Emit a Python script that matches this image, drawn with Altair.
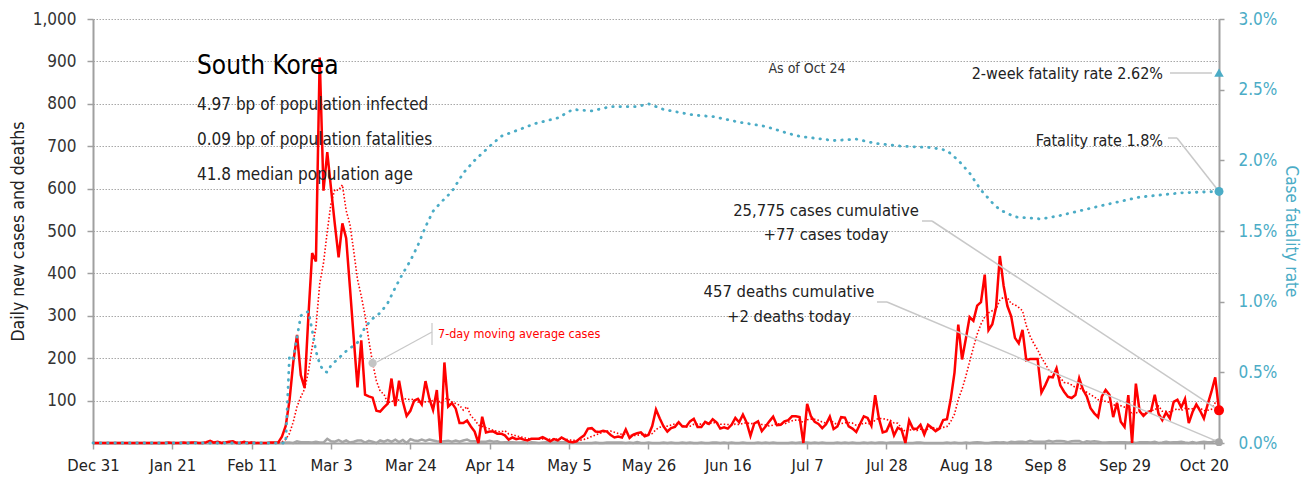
import altair as alt
import pandas as pd

FONT = "'DejaVu Sans Condensed', 'Liberation Sans Narrow', sans-serif"
RED = "#FF0000"
TEAL = "#4BACC6"
GRAY = "#A6A6A6"
LINE_GRAY = "#C8C8C8"

START_DATE = "2019-12-31"

# ---- daily new cases, one value per day from Dec 31 2019 to Oct 24 2020 ----
cases_dec = [0]
cases_jan = [0, 0, 0, 0, 0, 0, 0, 0, 0, 0, 0, 0, 0, 0, 0, 0, 0, 0, 0,
             1, 0, 0, 0, 1, 0, 1, 1, 0, 0, 2, 5]
cases_feb = [1, 3, 0, 1, 3, 4, 0, 0, 3, 0, 1, 0, 0, 0, 0, 1, 1, 1, 15, 40,
             100, 190, 255, 160, 130, 298, 448, 428, 909]
cases_mar = [595, 686, 600, 516, 438, 518, 483, 367, 248, 131, 242, 114, 110, 107, 76, 74,
             84, 93, 152, 87, 147, 98, 64, 76, 100, 104, 91, 146, 105, 78, 125]
cases_apr = [0, 190, 86, 94, 81, 47, 47, 53, 39, 27, 0, 62, 25, 27, 27, 22, 22, 18, 8, 13,
             9, 11, 8, 6, 10, 10, 10, 14, 9, 4]
cases_may = [9, 6, 13, 8, 3, 2, 4, 12, 18, 34, 35, 27, 26, 29, 27, 19, 13, 15, 13, 32,
             12, 20, 23, 25, 16, 19, 40, 79, 58, 39, 27]
cases_jun = [35, 38, 49, 39, 39, 51, 57, 38, 38, 50, 45, 56, 49, 34, 37, 34, 43, 59, 49, 67,
             48, 17, 46, 51, 28, 39, 51, 62, 42, 43]
cases_jul = [51, 54, 63, 63, 61, 0, 92, 63, 50, 45, 35, 44, 62, 33, 39, 61, 60, 39, 34, 26,
             45, 63, 59, 41, 113, 58, 25, 28, 48, 18, 36]
cases_aug = [31, 0, 53, 34, 33, 43, 20, 43, 36, 28, 34, 54, 56, 103, 166, 279, 197, 246, 297, 288,
             324, 332, 397, 266, 280, 320, 441, 371, 323, 299, 248]
cases_sep = [235, 267, 195, 198, 198, 198, 119, 136, 156, 155, 176, 136, 121, 109, 106, 113, 153, 126,
             110, 82, 70, 61, 110, 125, 114, 61, 95, 50, 38, 113]
cases_oct = [0, 140, 75, 64, 73, 75, 114, 69, 54, 72, 58, 97, 102, 84, 104, 47, 73, 91, 76, 58,
             91, 121, 155, 77]

# ---- daily new deaths ----
deaths_dec = [0]
deaths_jan = [0, 0, 0, 0, 0, 0, 0, 0, 0, 0, 0, 0, 0, 0, 0, 0, 0, 0, 0, 0,
              0, 0, 0, 0, 0, 0, 0, 0, 0, 0, 0]
deaths_feb = [0, 0, 0, 0, 0, 0, 0, 0, 0, 0, 0, 0, 0, 0, 0, 0, 0, 0, 0,
              1, 1, 0, 4, 2, 2, 2, 1, 3, 1]
deaths_mar = [1, 10, 4, 3, 7, 2, 6, 1, 3, 6, 6, 1, 5, 3, 0, 6, 3, 7, 3, 8,
              2, 7, 0, 9, 6, 5, 8, 5, 8, 6, 4]
deaths_apr = [3, 4, 5, 3, 6, 3, 6, 8, 4, 4, 3, 3, 3, 5, 3, 4, 1, 2, 2, 2,
              1, 1, 2, 0, 2, 1, 0, 1, 2, 1]
deaths_may = [1, 2, 2, 2, 0, 1, 0, 0, 0, 0, 0, 1, 0, 0, 1, 1, 1, 1, 1, 0,
              1, 0, 2, 0, 0, 1, 0, 0, 0, 1, 0]
deaths_jun = [1, 0, 0, 1, 0, 1, 0, 0, 1, 0, 0, 1, 1, 0, 1, 0, 1, 0, 0, 1,
              0, 0, 0, 1, 0, 1, 0, 1, 0, 0]
deaths_jul = [0, 0, 1, 0, 1, 1, 1, 0, 1, 0, 1, 0, 0, 0, 1, 0, 1, 0, 1, 0,
              0, 1, 0, 1, 0, 1, 1, 0, 1, 1, 1]
deaths_aug = [1, 0, 0, 0, 1, 1, 0, 0, 0, 0, 0, 0, 1, 0, 1, 0, 0, 1, 0, 1,
              2, 1, 0, 0, 1, 2, 1, 2, 0, 3, 2]
deaths_sep = [3, 3, 2, 5, 3, 3, 3, 3, 5, 3, 5, 5, 4, 2, 4, 5, 5, 1, 4, 3,
              4, 3, 1, 1, 2, 2, 2, 2, 2, 1]
deaths_oct = [2, 0, 2, 2, 2, 1, 3, 0, 1, 3, 1, 2, 2, 3, 1, 0, 2, 0, 2, 3,
              2, 2, 5, 2]

# ---- case fatality rate (percent) ----
cfr_dates = ["2019-12-31", "2020-02-20", "2020-02-21", "2020-02-22", "2020-02-23", "2020-02-24",
             "2020-02-25", "2020-02-26", "2020-02-27", "2020-02-28", "2020-02-29", "2020-03-01",
             "2020-03-02", "2020-03-03", "2020-03-05", "2020-03-07", "2020-03-09", "2020-03-10",
             "2020-03-12", "2020-03-14", "2020-03-16", "2020-03-18", "2020-03-20", "2020-03-22",
             "2020-03-24", "2020-03-26", "2020-03-28", "2020-03-30", "2020-04-01", "2020-04-04",
             "2020-04-07", "2020-04-10", "2020-04-14", "2020-04-17", "2020-04-21", "2020-04-26",
             "2020-05-02", "2020-05-06", "2020-05-11", "2020-05-16", "2020-05-23", "2020-05-26",
             "2020-05-30", "2020-06-07", "2020-06-12", "2020-06-19", "2020-06-26", "2020-07-02",
             "2020-07-05", "2020-07-14", "2020-07-20", "2020-07-25", "2020-08-01", "2020-08-09",
             "2020-08-13", "2020-08-16", "2020-08-19", "2020-08-22", "2020-08-25", "2020-08-27",
             "2020-08-31", "2020-09-07", "2020-09-12", "2020-09-23", "2020-10-03", "2020-10-14",
             "2020-10-24"]
cfr_pct = [0.0, 0.0, 0.62, 0.60, 0.75, 0.90,
           0.92, 0.93, 0.80, 0.65, 0.56, 0.51,
           0.50, 0.55, 0.60, 0.65, 0.69, 0.71,
           0.82, 0.88, 0.92, 0.99, 1.10, 1.20,
           1.29, 1.40, 1.53, 1.64, 1.70, 1.78,
           1.91, 2.00, 2.10, 2.17, 2.21, 2.26,
           2.30, 2.36, 2.35, 2.38, 2.38, 2.40,
           2.36, 2.32, 2.31, 2.27, 2.24, 2.19,
           2.17, 2.14, 2.15, 2.12, 2.10, 2.09,
           2.07, 2.00, 1.91, 1.79, 1.70, 1.65,
           1.60, 1.585, 1.61, 1.68, 1.74, 1.77,
           1.78]
two_week_cfr_pct = 2.62

# x-axis tick labels (every 21 days)
tick_dates = ["2019-12-31", "2020-01-21", "2020-02-11", "2020-03-03", "2020-03-24", "2020-04-14",
              "2020-05-05", "2020-05-26", "2020-06-16", "2020-07-07", "2020-07-28", "2020-08-18",
              "2020-09-08", "2020-09-29", "2020-10-20"]
left_ticks = [100, 200, 300, 400, 500, 600, 700, 800, 900, 1000]
right_ticks = [0.0, 0.005, 0.01, 0.015, 0.02, 0.025, 0.03]

daily_cases = (cases_dec + cases_jan + cases_feb + cases_mar + cases_apr + cases_may +
               cases_jun + cases_jul + cases_aug + cases_sep + cases_oct)
daily_deaths = (deaths_dec + deaths_jan + deaths_feb + deaths_mar + deaths_apr + deaths_may +
                deaths_jun + deaths_jul + deaths_aug + deaths_sep + deaths_oct)
n = len(daily_cases)
dates = pd.date_range(START_DATE, periods=n, freq="D").strftime("%Y-%m-%d").tolist()
df = pd.DataFrame({"date": dates, "day": list(range(n)),
                   "cases": daily_cases, "deaths": daily_deaths})
last = df.iloc[[-1]].reset_index(drop=True)
cfr_df = pd.DataFrame({"date": cfr_dates, "cfr": [v / 100 for v in cfr_pct]})
cfr_last = cfr_df.iloc[[-1]].reset_index(drop=True)
two_week = pd.DataFrame({"date": [dates[-1]], "rate": [two_week_cfr_pct / 100]})
one = pd.DataFrame({"k": [0]})


def dt(s):
    y, m, d = (int(p) for p in s.split("-"))
    return alt.DateTime(year=y, month=m, date=d, utc=True)


x_scale = alt.Scale(type="utc", domain=[dt(START_DATE), dt(dates[-1])])
x_axis = alt.Axis(values=[dt(s) for s in tick_dates],
                  labelExpr="utcFormat(datum.value, '%b %-d')",
                  title=None, grid=False, domainColor="#A0A0A0", domainWidth=2,
                  tickColor="#A0A0A0", tickSize=6, tickWidth=1.5, labelFontSize=16.5,
                  labelColor="#222222", labelBaseline="alphabetic", labelPadding=21,
                  labelOverlap=False, labelFlush=False, labelFont=FONT)
X = alt.X("date:T", scale=x_scale, axis=x_axis)

yL_scale = alt.Scale(domain=[0, 1000], nice=False, zero=True)
yL_axis = alt.Axis(values=left_ticks, labelExpr="format(datum.value, ',')",
                   title="Daily new cases and deaths",
                   grid=True, gridDash=[1.5, 1.5], gridColor="#A8A8A8", gridWidth=1,
                   domainColor="#A0A0A0", domainWidth=2, tickColor="#A0A0A0", tickSize=6,
                   tickWidth=1.5, labelFontSize=17, labelColor="#333333", labelPadding=11,
                   labelOverlap=False, labelFlush=False, labelFont=FONT, titleFont=FONT,
                   titleFontSize=17.5, titleFontWeight="normal", titleColor="#222222",
                   titleAngle=270, titleBaseline="middle", titleX=-75, titleY=212)
yR_scale = alt.Scale(domain=[0, 0.03], nice=False, zero=True)
yR_axis = alt.Axis(orient="right", values=right_ticks, labelExpr="format(datum.value, '.1%')",
                   title="Case fatality rate",
                   grid=False, domainColor="#A0A0A0", domainWidth=2, tickColor="#A0A0A0",
                   tickSize=5, tickWidth=1.5, labelFontSize=17, labelColor=TEAL, labelPadding=14,
                   labelOverlap=False, labelFlush=False, labelFont=FONT, titleFont=FONT,
                   titleFontSize=17, titleFontWeight="normal", titleColor=TEAL,
                   titleAngle=90, titleBaseline="middle", titleX=71, titleY=212)


def YL(field):
    return alt.Y(field, scale=yL_scale, axis=yL_axis)


def YR(field):
    return alt.Y(field, scale=yR_scale, axis=yR_axis)


base = alt.Chart(df)

deaths_line = base.mark_line(color=GRAY, strokeWidth=2.5).encode(x=X, y=YL("deaths:Q"))
ma_line = base.transform_window(
    ma="mean(cases)", frame=[-6, 0], sort=[alt.SortField("day")]
).mark_line(color=RED, strokeWidth=1.6, strokeDash=[1.5, 2]).encode(x=X, y=YL("ma:Q"))
cases_line = base.mark_line(color=RED, strokeWidth=2.5).encode(x=X, y=YL("cases:Q"))

ma_dot = base.transform_window(
    ma="mean(cases)", frame=[-6, 0], sort=[alt.SortField("day")]
).transform_filter("datum.day == 74").mark_point(
    filled=True, color="#C4C4C4", size=70, opacity=1).encode(x=X, y=YL("ma:Q"))

# connector lines (annotation -> last data point)
cases_conn = alt.Chart(last).mark_rule(color=LINE_GRAY, strokeWidth=1.5).encode(
    x=X, y=YL("cases:Q"), x2=alt.value(839), y2=alt.value(202))
deaths_conn = alt.Chart(last).mark_rule(color=LINE_GRAY, strokeWidth=1.5).encode(
    x=X, y=YL("deaths:Q"), x2=alt.value(794), y2=alt.value(283))
cases_conn_h = alt.Chart(one).mark_rule(color=LINE_GRAY, strokeWidth=1.5).encode(
    x=alt.value(829), x2=alt.value(839), y=alt.value(202))
deaths_conn_h = alt.Chart(one).mark_rule(color=LINE_GRAY, strokeWidth=1.5).encode(
    x=alt.value(784), x2=alt.value(794), y=alt.value(283))
ma_conn = alt.Chart(one).mark_rule(color=LINE_GRAY, strokeWidth=1.2).encode(
    x=alt.value(339), x2=alt.value(284), y=alt.value(313), y2=alt.value(343))
ma_tick = alt.Chart(one).mark_rule(color=LINE_GRAY, strokeWidth=1.2).encode(
    x=alt.value(339), y=alt.value(304), y2=alt.value(326))

deaths_end = alt.Chart(last).mark_point(filled=True, color=GRAY, size=60, opacity=1).encode(
    x=X, y=YL("deaths:Q"))
cases_end = alt.Chart(last).mark_point(filled=True, color=RED, size=100, opacity=1).encode(
    x=X, y=YL("cases:Q"))


def label(text, x, y, size=16, align="left", color="#222222"):
    return alt.Chart(one).mark_text(align=align, baseline="alphabetic", fontSize=size,
                                    font=FONT, color=color).encode(
        x=alt.value(x), y=alt.value(y), text=alt.value(text))


texts = [
    label("South Korea", 104, 55, size=26, color="#000000"),
    label("4.97 bp of population infected", 104, 91, size=17),
    label("0.09 bp of population fatalities", 104, 126, size=17),
    label("41.8 median population age", 104, 161, size=17),
    label("As of Oct 24", 714, 54, size=14, align="center", color="#333333"),
    label("2-week fatality rate 2.62%", 1070, 60, size=16, align="right"),
    label("Fatality rate 1.8%", 1070, 127, size=16, align="right"),
    label("25,775 cases cumulative", 733, 197, size=16.5, align="center"),
    label("+77 cases today", 733, 221, size=16.5, align="center"),
    label("457 deaths cumulative", 696, 278, size=16.5, align="center"),
    label("+2 deaths today", 696, 303, size=16.5, align="center"),
    label("7-day moving average cases", 345, 319, size=12.5, color=RED),
]

left = alt.layer(deaths_line, ma_line, cases_line, ma_conn, ma_tick, ma_dot,
                 cases_conn_h, cases_conn, deaths_conn_h, deaths_conn,
                 deaths_end, cases_end, *texts)

cfr_line = alt.Chart(cfr_df).mark_line(color=TEAL, strokeWidth=2.8, strokeDash=[0.5, 6.8],
                                       strokeCap="round").encode(x=X, y=YR("cfr:Q"))
cfr_conn = alt.Chart(cfr_last).mark_rule(color=LINE_GRAY, strokeWidth=1.5).encode(
    x=X, y=YR("cfr:Q"), x2=alt.value(1084), y2=alt.value(119))
cfr_conn_h = alt.Chart(one).mark_rule(color=LINE_GRAY, strokeWidth=1.5).encode(
    x=alt.value(1075), x2=alt.value(1084), y=alt.value(119))
tw_conn = alt.Chart(one).mark_rule(color=LINE_GRAY, strokeWidth=1.5).encode(
    x=alt.value(1077), x2=alt.value(1119), y=alt.value(54))
cfr_end = alt.Chart(cfr_last).mark_point(filled=True, color=TEAL, size=80, opacity=1).encode(
    x=X, y=YR("cfr:Q"))
tw_end = alt.Chart(two_week).mark_point(filled=True, shape="triangle-up", color=TEAL, size=90,
                                        opacity=1).encode(x=X, y=YR("rate:Q"))

right = alt.layer(cfr_line, cfr_conn_h, cfr_conn, tw_conn, cfr_end, tw_end)

chart = alt.layer(left, right).resolve_scale(y="independent").properties(
    width=1126, height=424,
    autosize=alt.AutoSizeParams(type="none"),
    padding={"left": 85, "top": 11, "right": 83, "bottom": 31},
    background="white",
).configure_view(stroke=None).configure_axis(labelFont=FONT, titleFont=FONT)

chart.save("out.html", embed_options={"renderer": "svg", "actions": False})
